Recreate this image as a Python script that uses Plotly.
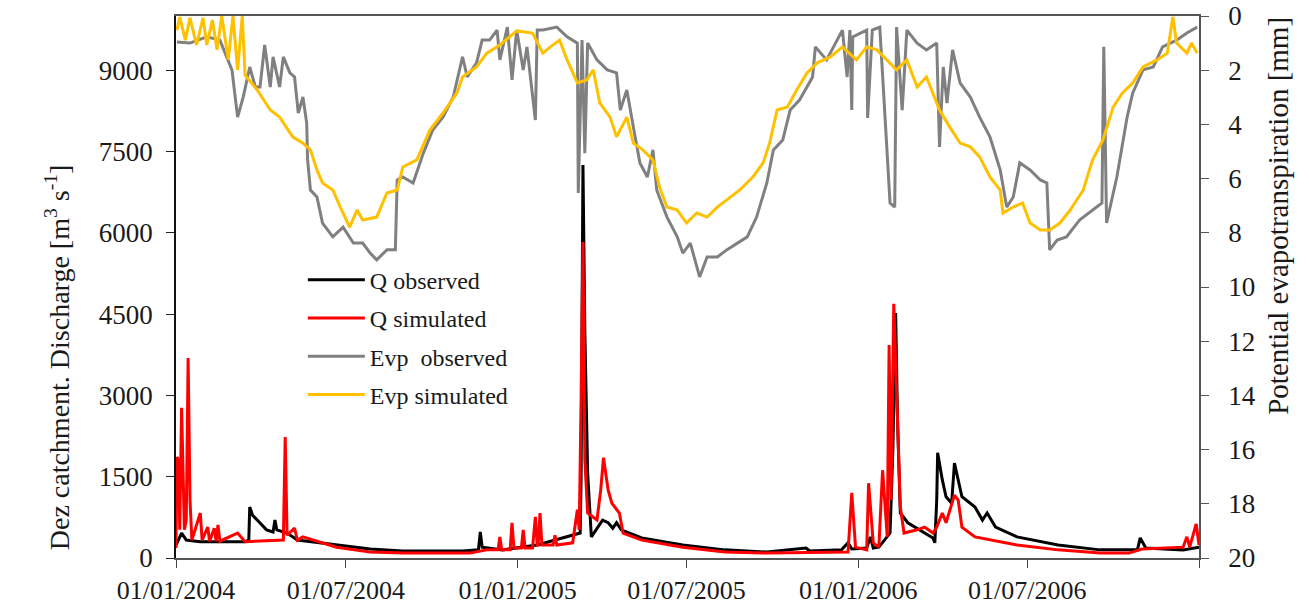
import pandas as pd
import plotly.graph_objects as go

START = pd.Timestamp("2004-01-01")

# ---- Q observed (day offset from 01/01/2004, discharge m3/s)
qobs_day = [0, 6, 11, 26, 74, 78, 79, 82, 87, 97, 104, 106, 108, 119, 130, 172, 208, 243, 307, 324, 326, 328,
            350, 387, 417, 433, 434, 436, 438, 441, 445, 450, 457, 463, 468, 472, 477, 499, 543, 588, 633, 675,
            679, 713, 720, 724, 740, 744, 747, 753, 765, 768, 771, 773, 776, 784, 802, 811, 813, 815, 816, 821,
            825, 831, 834, 838, 842, 856, 864, 869, 878, 901, 945, 990, 1030, 1033, 1039, 1079, 1096]
qobs_val = [240, 460, 330, 300, 300, 330, 940, 790, 700, 520, 480, 700, 520, 460, 330, 240, 165, 130, 130, 150, 480, 200,
            150, 240, 390, 460, 1440, 7250, 4200, 1570, 390, 520, 700, 650, 550, 650, 520, 370, 240, 150, 110, 185,
            130, 150, 280, 165, 185, 390, 185, 200, 460, 1990, 4520, 2550, 830, 650, 460, 370, 280, 1070, 1940, 1440,
            1130, 1010, 1750, 1440, 1130, 940, 700, 830, 570, 390, 240, 150, 150, 370, 185, 150, 200]

# ---- Q simulated
qsim_day = [0, 1, 3, 4, 6, 9, 11, 13, 15, 17, 26, 28, 34, 36, 41, 43, 45, 47, 66, 74, 115, 117, 119, 127, 130, 136,
            172, 208, 243, 315, 333, 345, 347, 349, 358, 360, 362, 370, 372, 374, 382, 385, 387, 388, 390, 392, 404,
            406, 408, 425, 430, 432, 434, 436, 438, 441, 451, 455, 458, 463, 467, 475, 479, 499, 543, 588, 633, 713,
            720, 724, 728, 740, 742, 747, 753, 757, 762, 764, 766, 769, 772, 776, 780, 794, 802, 811, 815, 821, 825,
            829, 834, 838, 842, 856, 901, 945, 990, 1021, 1035, 1079, 1083, 1086, 1093, 1096]
qsim_val = [185, 1860, 1810, 520, 2770, 520, 700, 3690, 1070, 330, 830, 330, 570, 310, 550, 310, 610, 310, 460, 300,
            330, 2230, 420, 550, 330, 390, 200, 110, 90, 90, 150, 150, 390, 150, 150, 650, 185, 185, 520, 185, 185,
            760, 240, 240, 830, 240, 240, 420, 240, 280, 890, 520, 2920, 5830, 1810, 830, 700, 1250, 1850, 1250, 1010,
            830, 460, 330, 200, 110, 90, 110, 110, 1200, 200, 150, 1380, 280, 200, 1620, 390, 3930, 1070, 4690, 2920,
            940, 460, 520, 570, 460, 570, 830, 650, 890, 1160, 1070, 570, 390, 240, 150, 90, 90, 165, 200, 390, 200,
            630, 240]

# ---- Evp observed (mm)
eobs_day = [1, 15, 33, 47, 60, 66, 72, 79, 85, 90, 95, 101, 104, 111, 115, 122, 127, 131, 136, 140, 141, 144, 151,
            157, 168, 179, 190, 200, 208, 215, 226, 235, 237, 243, 254, 265, 275, 286, 297, 307, 312, 322, 328, 336,
            344, 347, 355, 360, 365, 372, 376, 385, 387, 393, 408, 419, 430, 431, 435, 438, 441, 451, 462, 472, 476,
            483, 490, 497, 505, 511, 515, 526, 537, 543, 551, 561, 569, 580, 590, 601, 612, 622, 633, 640, 650, 658,
            668, 682, 685, 697, 714, 719, 722, 724, 725, 740, 741, 746, 754, 765, 770, 772, 778, 783, 794, 804, 815,
            818, 822, 826, 832, 840, 851, 861, 872, 883, 890, 897, 904, 915, 926, 933, 936, 944, 954, 968, 982, 992,
            994, 997, 1008, 1019, 1025, 1036, 1047, 1057, 1072, 1083, 1094]
eobs_val = [0.96, 1.0, 0.77, 0.89, 2.0, 3.73, 2.99, 1.88, 2.62, 2.62, 1.07, 2.62, 1.51, 2.62, 1.51, 2.10, 2.25, 3.58,
            2.99, 3.95, 5.31, 6.42, 6.68, 7.64, 8.15, 7.79, 8.38, 8.38, 8.75, 9.0, 8.63, 8.63, 6.05, 5.94, 6.16, 5.06,
            4.21, 3.73, 2.99, 1.51, 2.25, 1.73, 0.89, 0.89, 0.52, 1.62, 0.41, 2.36, 0.52, 1.99, 1.14, 3.84, 0.52, 0.52,
            0.41, 0.77, 1.0, 6.53, 0.89, 5.06, 1.0, 1.62, 1.99, 2.10, 3.47, 2.73, 4.10, 5.42, 5.94, 4.94, 6.42, 7.42,
            8.15, 8.75, 8.38, 9.63, 8.89, 8.89, 8.63, 8.38, 8.15, 7.42, 6.16, 4.94, 4.58, 3.47, 3.1, 2.25, 1.14, 1.62,
            0.52, 2.25, 0.52, 3.47, 0.77, 0.52, 3.76, 0.52, 0.41, 6.90, 7.05, 0.41, 3.47, 0.52, 1.0, 1.25, 1.0, 4.83,
            1.88, 3.21, 1.25, 2.47, 2.99, 3.73, 4.46, 5.68, 7.05, 6.68, 5.42, 5.68, 6.05, 6.16, 8.63, 8.27, 8.15, 7.53,
            7.16, 6.90, 1.14, 7.64, 5.94, 3.73, 2.84, 1.99, 1.88, 1.14, 0.89, 0.63, 0.41]

# ---- Evp simulated (mm)
esim_day = [1, 4, 10, 15, 22, 29, 33, 39, 44, 49, 56, 61, 66, 71, 74, 87, 101, 111, 125, 136, 144, 151, 157, 168,
            176, 186, 194, 200, 215, 226, 237, 243, 258, 272, 286, 301, 307, 322, 333, 347, 365, 382, 393, 401, 411,
            419, 430, 440, 447, 454, 465, 472, 483, 490, 500, 511, 518, 526, 537, 547, 558, 569, 580, 590, 604, 618,
            629, 636, 644, 655, 665, 676, 687, 701, 714, 729, 740, 751, 762, 772, 783, 794, 804, 818, 829, 840, 851,
            861, 872, 883, 886, 897, 907, 915, 926, 936, 947, 958, 972, 982, 993, 1004, 1014, 1025, 1036, 1051, 1062,
            1068, 1072, 1083, 1088, 1094]
esim_val = [0.52, 0.04, 0.89, 0.07, 1.07, 0.07, 1.07, 0.15, 1.25, 0.0, 1.62, 0.0, 1.99, 0.0, 2.18, 2.73, 3.47, 3.73,
            4.46, 4.69, 4.94, 5.68, 6.16, 6.42, 7.05, 7.79, 7.16, 7.53, 7.42, 6.53, 6.42, 5.57, 5.31, 4.21, 3.58, 2.84,
            2.25, 1.88, 1.37, 1.07, 0.55, 0.63, 1.37, 1.14, 0.89, 1.62, 2.47, 2.36, 1.99, 3.21, 3.73, 4.46, 3.73, 4.69,
            4.94, 5.31, 6.31, 7.05, 7.16, 7.64, 7.27, 7.42, 7.05, 6.79, 6.42, 5.94, 5.42, 4.69, 3.47, 3.36, 2.73, 2.10,
            1.73, 1.51, 1.14, 1.62, 1.14, 1.25, 1.62, 1.99, 1.62, 2.62, 2.25, 3.47, 4.10, 4.69, 4.83, 5.20, 5.94, 6.42,
            7.27, 7.05, 6.90, 7.64, 7.90, 7.90, 7.64, 7.16, 6.42, 5.31, 4.58, 3.36, 2.84, 2.47, 1.88, 1.62, 1.37, 0.04,
            1.0, 1.37, 1.0, 1.37]

# ---- axis ticks and titles
x_tick_dates = ["2004-01-01", "2004-07-01", "2005-01-01", "2005-07-01", "2006-01-01", "2006-07-01", "2007-01-01"]
x_tick_text = ["01/01/2004", "01/07/2004", "01/01/2005", "01/07/2005", "01/01/2006", "01/07/2006", ""]
q_ticks = [0, 1500, 3000, 4500, 6000, 7500, 9000]
evp_ticks = [0, 2, 4, 6, 8, 10, 12, 14, 16, 18, 20]
left_title = "Dez catchment. Discharge [m<sup>3</sup> s<sup>-1</sup>]"
right_title = "Potential evapotranspiration [mm]"


def to_dates(days):
    return START + pd.to_timedelta(days, unit="D")


FONT = "Liberation Serif, Times New Roman, serif"
TXT = "#1a1a1a"
fig = go.Figure()

fig.add_trace(go.Scatter(x=to_dates(eobs_day), y=eobs_val, yaxis="y2", mode="lines", name="Evp\u00a0\u00a0observed",
                         line=dict(color="#808080", width=3), legendgroup="c", legendrank=3))
fig.add_trace(go.Scatter(x=to_dates(esim_day), y=esim_val, yaxis="y2", mode="lines", name="Evp simulated",
                         line=dict(color="#ffc000", width=3), legendgroup="d", legendrank=4))
fig.add_trace(go.Scatter(x=to_dates(qobs_day), y=qobs_val, mode="lines", name="Q observed",
                         line=dict(color="#000000", width=3), legendgroup="a", legendrank=1))
fig.add_trace(go.Scatter(x=to_dates(qsim_day), y=qsim_val, mode="lines", name="Q simulated",
                         line=dict(color="#ff0000", width=3), legendgroup="b", legendrank=2))

fig.update_layout(
    width=1309, height=608,
    margin=dict(l=176, r=110, t=16, b=50),
    paper_bgcolor="white", plot_bgcolor="white",
    font=dict(family=FONT, size=26, color=TXT),
    showlegend=True,
    legend=dict(x=0.124, y=0.554, xanchor="left", yanchor="top", bgcolor="rgba(0,0,0,0)",
                font=dict(family=FONT, size=24, color=TXT), itemwidth=57, tracegroupgap=4,
                traceorder="grouped"),
    xaxis=dict(type="date", range=["2004-01-01", "2007-01-01"], tickvals=x_tick_dates, ticktext=x_tick_text,
               ticks="outside", ticklen=8, tickcolor="#444", showline=True, linecolor="#555", linewidth=1.5,
               mirror=True, showgrid=False, zeroline=False, tickfont=dict(size=26), automargin=False,
               ticklabelstandoff=0),
    yaxis=dict(range=[0, 10000], tickvals=q_ticks, ticks="outside", ticklen=8, tickcolor="#222",
               showline=True, linecolor="#111", linewidth=1.5, showgrid=False, zeroline=False,
               tickfont=dict(size=27), automargin=False, ticklabelstandoff=8),
    yaxis2=dict(range=[20, 0], tickvals=evp_ticks, overlaying="y", side="right", ticks="outside", ticklen=8,
                tickcolor="#555", showline=True, linecolor="#555", linewidth=1.5, showgrid=False, zeroline=False,
                tickfont=dict(size=27), automargin=False, ticklabelstandoff=14),
    annotations=[
        dict(text=left_title, textangle=-90, xref="paper", yref="paper", x=-0.115, y=0.371,
             xanchor="center", yanchor="middle", showarrow=False, font=dict(family=FONT, size=28, color=TXT)),
        dict(text=right_title, textangle=-90, xref="paper", yref="paper", x=1.077, y=0.631,
             xanchor="center", yanchor="middle", showarrow=False, font=dict(family=FONT, size=29, color=TXT)),
    ],
)

fig.write_html("out.html")
